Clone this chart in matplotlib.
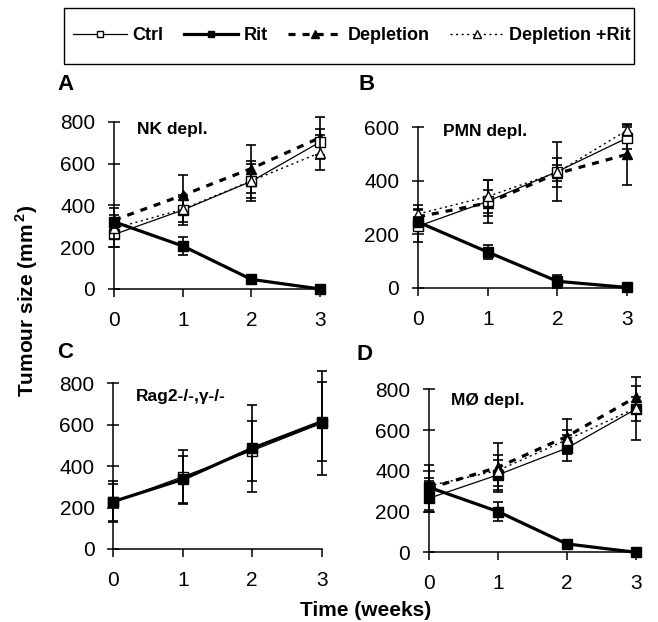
import numpy as np
import matplotlib
matplotlib.use("Agg")
import matplotlib.pyplot as plt
from matplotlib.lines import Line2D
from matplotlib.patches import Rectangle

plt.rcParams['font.family'] = ['Liberation Sans', 'DejaVu Sans']
plt.rcParams['mathtext.fontset'] = 'custom'
plt.rcParams['mathtext.rm'] = 'Liberation Sans:bold'
plt.rcParams['mathtext.bf'] = 'Liberation Sans:bold'

weeks = [0, 1, 2, 3]

# panel A - NK depletion
a_ctrl = [261, 378, 516, 704]
a_ctrl_err = [60, 70, 95, 60]
a_rit = [322, 206, 46, 0]
a_rit_err = [30, 45, 15, 5]
a_dep = [330, 449, 577, 725]
a_dep_err = [60, 96, 115, 100]
a_deprit = [290, 382, 518, 653]
a_deprit_err = [50, 60, 80, 85]

# panel B - PMN depletion
b_ctrl = [230, 323, 434, 559]
b_ctrl_err = [60, 80, 110, 40]
b_rit = [246, 134, 25, 2]
b_rit_err = [20, 25, 25, 5]
b_dep = [265, 317, 427, 498]
b_dep_err = [30, 50, 30, 115]
b_deprit = [276, 341, 431, 588]
b_deprit_err = [35, 60, 55, 20]

# panel C - Rag2-/-,gamma-/- (ctrl vs rit only)
c_ctrl = [225, 349, 475, 607]
c_ctrl_err = [90, 130, 145, 250]
c_rit = [229, 336, 486, 615]
c_rit_err = [100, 115, 210, 190]

# panel D - macrophage depletion
d_ctrl = [265, 380, 511, 702]
d_ctrl_err = [57, 75, 65, 60]
d_rit = [319, 200, 41, 0]
d_rit_err = [30, 45, 10, 5]
d_dep = [314, 417, 568, 761]
d_dep_err = [115, 120, 85, 55]
d_deprit = [326, 401, 552, 707]
d_deprit_err = [40, 75, 50, 155]

ctrl_style = dict(color='black', lw=0.9, marker='s', ms=6.5, mfc='white', mec='black', mew=1.0)
rit_style = dict(color='black', lw=2.3, marker='s', ms=6.5, mfc='black', mec='black')
dep_style = dict(color='black', lw=2.3, ls=(0, (2.2, 2.2)), marker='^', ms=7, mfc='black', mec='black')
deprit_style = dict(color='black', lw=1.0, ls=(0, (1.5, 2.5)), marker='^', ms=7, mfc='white', mec='black', mew=1.0)


def series(ax, x, y, err, style, z):
    ax.errorbar(x, y, yerr=err, fmt='none', ecolor='black', elinewidth=1.2,
                capsize=3.5, capthick=1.2, clip_on=False, zorder=z)
    ax.plot(x, y, clip_on=False, zorder=z + 0.5, **style)


def setup(ax, ymax, label, tx, ty):
    ax.set_xlim(0, 3)
    ax.set_ylim(0, ymax)
    ax.set_xticks(weeks)
    ax.set_yticks(np.arange(0, ymax + 1, 200))
    for s in ['top', 'right']:
        ax.spines[s].set_visible(False)
    for s in ['left', 'bottom']:
        ax.spines[s].set_linewidth(1.1)
    ax.tick_params(axis='y', direction='inout', length=9, width=1.1, labelsize=15, pad=9)
    ax.tick_params(axis='x', direction='out', length=5.5, width=1.1, labelsize=15, pad=10)
    ax.text(tx, ty, label, transform=ax.transAxes, fontsize=12.5,
            fontweight='bold', va='center', ha='left')


fig = plt.figure(figsize=(6.58, 6.22), dpi=100)

axA = fig.add_axes([0.1733, 0.5354, 0.3131, 0.2685])
axB = fig.add_axes([0.6353, 0.537, 0.3176, 0.2588])
axC = fig.add_axes([0.1722, 0.1174, 0.3167, 0.2664])
axD = fig.add_axes([0.652, 0.1121, 0.3141, 0.2621])

series(axA, weeks, a_ctrl, a_ctrl_err, ctrl_style, 3)
series(axA, weeks, a_deprit, a_deprit_err, deprit_style, 4)
series(axA, weeks, a_dep, a_dep_err, dep_style, 2)
series(axA, weeks, a_rit, a_rit_err, rit_style, 5)
setup(axA, 800, 'NK depl.', 0.112, 0.952)

series(axB, weeks, b_ctrl, b_ctrl_err, ctrl_style, 3)
series(axB, weeks, b_deprit, b_deprit_err, deprit_style, 4)
series(axB, weeks, b_dep, b_dep_err, dep_style, 2)
series(axB, weeks, b_rit, b_rit_err, rit_style, 5)
setup(axB, 600, 'PMN depl.', 0.12, 0.975)

series(axC, weeks, c_ctrl, c_ctrl_err, ctrl_style, 3)
series(axC, weeks, c_rit, c_rit_err, rit_style, 5)
setup(axC, 800, 'Rag2-/-,γ-/-', 0.11, 0.92)

d_ctrl_style = dict(ctrl_style, mfc='black')
series(axD, weeks, d_ctrl, d_ctrl_err, d_ctrl_style, 3)
series(axD, weeks, d_deprit, d_deprit_err, deprit_style, 4)
series(axD, weeks, d_dep, d_dep_err, dep_style, 2)
series(axD, weeks, d_rit, d_rit_err, rit_style, 5)
setup(axD, 800, 'MØ depl.', 0.106, 0.933)

for lab, x, y in [('A', 57, 85), ('B', 358, 85), ('C', 57, 353), ('D', 357, 354)]:
    fig.text(x / 658, 1 - y / 622, lab, fontsize=16, fontweight='bold', va='center', ha='left')

fig.text(27 / 658, 1 - 301 / 622, r'Tumour size (mm$^{\,2}$)', rotation=90,
         fontsize=15, fontweight='bold', va='center', ha='center')
fig.text(366 / 658, 1 - 610 / 622, 'Time (weeks)', fontsize=15,
         fontweight='bold', va='center', ha='center')

# legend box drawn separately so its size can be matched
fig.patches.append(Rectangle((64 / 658, 1 - 64 / 622), 570 / 658, 56 / 622,
                             transform=fig.transFigure, fill=False,
                             edgecolor='black', lw=1.0))

handles = [Line2D([], [], **ctrl_style), Line2D([], [], **rit_style),
           Line2D([], [], **dep_style), Line2D([], [], **deprit_style)]
names = ['Ctrl', 'Rit', 'Depletion', 'Depletion +Rit']
leg = fig.legend(handles, names, loc='center', bbox_to_anchor=(352 / 658, 1 - 36 / 622), ncol=4,
                 frameon=False, handlelength=3.0, columnspacing=1.12, handletextpad=0.3,
                 prop={'weight': 'bold', 'size': 13}, markerscale=0.75)

fig.savefig('out.png', dpi=100)
